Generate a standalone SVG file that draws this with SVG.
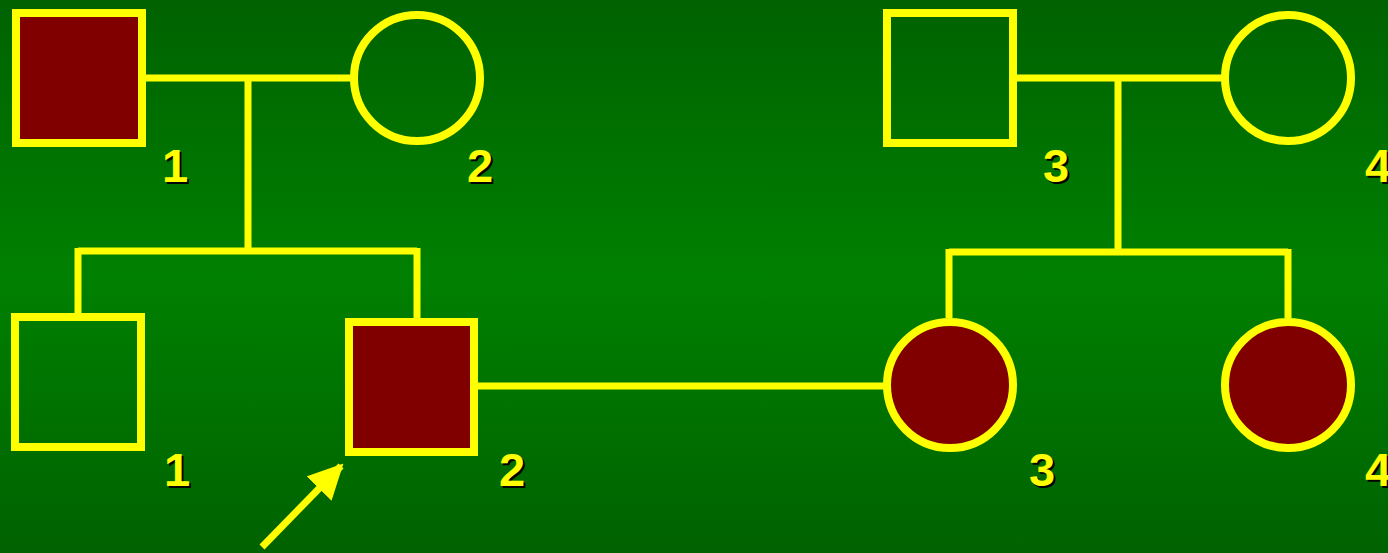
<svg xmlns="http://www.w3.org/2000/svg" width="1388" height="553" viewBox="0 0 1388 553">
  <defs>
    <linearGradient id="bg" x1="0" y1="0" x2="0" y2="1">
      <stop offset="0" stop-color="#006200"/>
      <stop offset="0.5" stop-color="#008000"/>
      <stop offset="1" stop-color="#006200"/>
    </linearGradient>
    <marker id="head" viewBox="0 0 10 10" refX="9" refY="5" markerWidth="5" markerHeight="5" orient="auto" markerUnits="strokeWidth">
      <path d="M0,0 L10,5 L0,10 Z" fill="#ffff00"/>
    </marker>
  </defs>
  <style>
    .node { stroke: #ffff00; stroke-width: 8; }
    .aff { fill: #800000; }
    .unaff { fill: none; }
    .line { stroke: #ffff00; stroke-width: 7; fill: none; }
    .lbl { font-family: "Liberation Sans", Arial, sans-serif; font-weight: bold; font-size: 47px; fill: #ffff00; text-anchor: middle; }
    .shadow { fill: #000000; }
  </style>
  <rect x="0" y="0" width="1388" height="553" fill="url(#bg)"/>

  <g id="connectors">
    <!-- left family -->
    <path class="line" d="M146,78 H352"/>
    <path class="line" d="M248,78 V251"/>
    <path class="line" d="M78,251 H417"/>
    <path class="line" d="M78,248 V316"/>
    <path class="line" d="M417,248 V321"/>
    <!-- right family -->
    <path class="line" d="M1017,78 H1223"/>
    <path class="line" d="M1118,78 V252"/>
    <path class="line" d="M949,252 H1288"/>
    <path class="line" d="M949,249 V318"/>
    <path class="line" d="M1288,249 V318"/>
    <!-- marriage between families -->
    <path class="line" d="M478,386 H884"/>
    <!-- proband arrow -->
    <path class="line" d="M262,547 L341,466" marker-end="url(#head)"/>
  </g>

  <g id="I-1">
    <rect class="node aff" x="16" y="13" width="126" height="130"/>
    <text class="lbl shadow" x="177" y="184">1</text>
    <text class="lbl" x="175" y="182">1</text>
  </g>
  <g id="I-2">
    <circle class="node unaff" cx="417" cy="78" r="63"/>
    <text class="lbl shadow" x="482" y="184">2</text>
    <text class="lbl" x="480" y="182">2</text>
  </g>
  <g id="I-3">
    <rect class="node unaff" x="887" y="13" width="126" height="130"/>
    <text class="lbl shadow" x="1058" y="184">3</text>
    <text class="lbl" x="1056" y="182">3</text>
  </g>
  <g id="I-4">
    <circle class="node unaff" cx="1288" cy="78" r="63"/>
    <text class="lbl shadow" x="1380" y="184">4</text>
    <text class="lbl" x="1378" y="182">4</text>
  </g>
  <g id="II-1">
    <rect class="node unaff" x="15" y="317" width="126" height="130"/>
    <text class="lbl shadow" x="179" y="488">1</text>
    <text class="lbl" x="177" y="486">1</text>
  </g>
  <g id="II-2">
    <rect class="node aff" x="349" y="322" width="125" height="130"/>
    <text class="lbl shadow" x="514" y="488">2</text>
    <text class="lbl" x="512" y="486">2</text>
  </g>
  <g id="II-3">
    <circle class="node aff" cx="950" cy="385" r="63"/>
    <text class="lbl shadow" x="1044" y="488">3</text>
    <text class="lbl" x="1042" y="486">3</text>
  </g>
  <g id="II-4">
    <circle class="node aff" cx="1288" cy="385" r="63"/>
    <text class="lbl shadow" x="1380" y="488">4</text>
    <text class="lbl" x="1378" y="486">4</text>
  </g>
</svg>
